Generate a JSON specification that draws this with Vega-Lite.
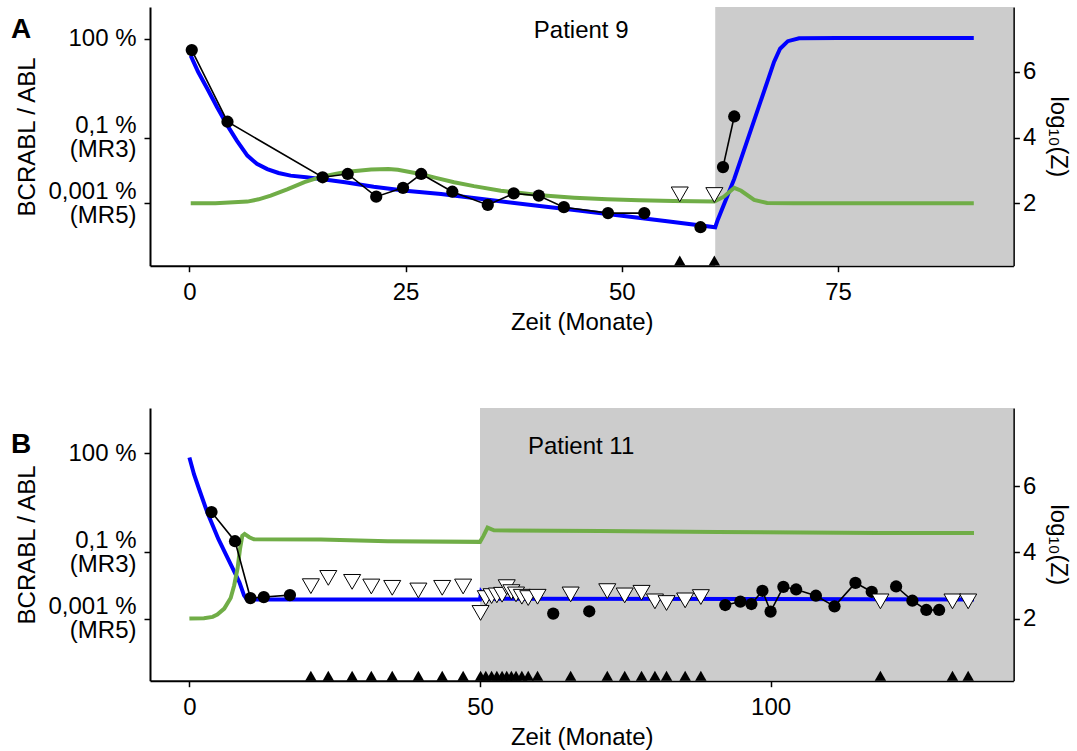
{
  "$schema": "https://vega.github.io/schema/vega-lite/v6.json",
  "padding": {"left": 10, "top": 7, "right": 5, "bottom": 5},
  "spacing": 73,
  "config": {
    "font": "Liberation Sans",
    "view": {"stroke": null},
    "axis": {"grid": false, "domainColor": "#000", "domainWidth": 2, "tickColor": "#000", "tickWidth": 1.5, "tickSize": 6, "labelFont": "Liberation Sans", "labelFontSize": 24, "labelColor": "#000", "titleFont": "Liberation Sans", "titleFontSize": 24, "titleFontWeight": "normal", "titleColor": "#000", "labelPadding": 6, "titlePadding": 8},
    "axisX": {"labelPadding": 9, "titlePadding": 6},
    "title": {"font": "Liberation Sans", "fontSize": 28, "fontWeight": "bold", "color": "#000"}
  },
  "datasets": {
    "a_rect": [{"t": 60.8, "t2": 95.28}],
    "b_rect": [{"t": 50.0, "t2": 141.78}],
    "a_blue": [
      {"t":0.15,"v":6.49},{"t":1.0,"v":6.0},{"t":2.1,"v":5.47},{"t":3.2,"v":4.92},{"t":4.4,"v":4.36},{"t":5.5,"v":3.9},{"t":6.7,"v":3.45},{"t":7.8,"v":3.2},{"t":9.0,"v":3.04},{"t":10.3,"v":2.92},{"t":11.7,"v":2.84},{"t":13.5,"v":2.79},{"t":15.2,"v":2.74},{"t":18,"v":2.64},{"t":21.3,"v":2.5},{"t":25,"v":2.38},{"t":29.1,"v":2.28},{"t":35,"v":2.09},{"t":40,"v":1.93},{"t":45,"v":1.78},{"t":50,"v":1.62},{"t":55,"v":1.46},{"t":60.8,"v":1.27},{"t":61.1,"v":1.5},{"t":63.0,"v":2.74},{"t":66.8,"v":5.68},{"t":67.6,"v":6.3},{"t":68.3,"v":6.7},{"t":69.2,"v":6.93},{"t":70.5,"v":7.02},{"t":75,"v":7.03},{"t":90.7,"v":7.03}
    ],
    "a_green": [
      {"t":0.15,"v":2.0},{"t":3,"v":2.0},{"t":6.7,"v":2.05},{"t":8,"v":2.12},{"t":9.4,"v":2.23},{"t":11.3,"v":2.42},{"t":13.3,"v":2.64},{"t":15.2,"v":2.8},{"t":17,"v":2.9},{"t":18.3,"v":2.96},{"t":21,"v":3.03},{"t":23,"v":3.04},{"t":24.1,"v":3.02},{"t":26.7,"v":2.89},{"t":28.5,"v":2.77},{"t":30.6,"v":2.64},{"t":32.9,"v":2.52},{"t":36,"v":2.38},{"t":40.6,"v":2.24},{"t":44.5,"v":2.17},{"t":48.3,"v":2.12},{"t":52,"v":2.09},{"t":56,"v":2.07},{"t":60.7,"v":2.05},{"t":61.8,"v":2.2},{"t":63.0,"v":2.47},{"t":63.8,"v":2.38},{"t":65.3,"v":2.1},{"t":66.8,"v":2.01},{"t":70,"v":2.0},{"t":90.7,"v":2.0}
    ],
    "a_meas": [
      {"t":0.27,"v":6.66,"seg":1},{"t":4.4,"v":4.48,"seg":1},{"t":15.4,"v":2.79,"seg":1},{"t":18.3,"v":2.89,"seg":1},{"t":21.6,"v":2.2,"seg":1},{"t":24.7,"v":2.47,"seg":1},{"t":26.8,"v":2.89,"seg":1},{"t":30.4,"v":2.35,"seg":1},{"t":34.5,"v":1.95,"seg":1},{"t":37.5,"v":2.3,"seg":1},{"t":40.4,"v":2.23,"seg":1},{"t":43.3,"v":1.88,"seg":1},{"t":48.4,"v":1.7,"seg":1},{"t":52.6,"v":1.7,"seg":1},{"t":59.1,"v":1.27,"seg":2},{"t":61.7,"v":3.1,"seg":3},{"t":63.0,"v":4.64,"seg":3}
    ],
    "a_undet": [{"t":56.7,"v":2.27},{"t":60.7,"v":2.25}],
    "a_text": [{"t":45.3,"v":7.24,"label":"Patient 9"}],
    "b_blue": [
      {"t":0,"v":6.87},{"t":0.8,"v":6.36},{"t":1.6,"v":5.95},{"t":3.1,"v":5.2},{"t":5,"v":4.4},{"t":7.7,"v":3.43},{"t":8.6,"v":3.1},{"t":9.4,"v":2.7},{"t":9.9,"v":2.58},{"t":20,"v":2.58},{"t":50,"v":2.58},{"t":50.2,"v":2.8},{"t":50.8,"v":2.65},{"t":51.5,"v":2.6},{"t":135,"v":2.58}
    ],
    "b_green": [
      {"t":0,"v":2.0},{"t":2.5,"v":2.01},{"t":4.0,"v":2.05},{"t":4.8,"v":2.12},{"t":6.0,"v":2.3},{"t":7.1,"v":2.62},{"t":7.7,"v":3.0},{"t":8.3,"v":3.53},{"t":8.7,"v":4.1},{"t":9.1,"v":4.5},{"t":9.5,"v":4.56},{"t":10.3,"v":4.46},{"t":11.1,"v":4.4},{"t":22.6,"v":4.39},{"t":34.1,"v":4.34},{"t":50.0,"v":4.32},{"t":50.6,"v":4.5},{"t":51.3,"v":4.75},{"t":52.4,"v":4.67},{"t":70.8,"v":4.65},{"t":90.8,"v":4.62},{"t":118.4,"v":4.59},{"t":135,"v":4.59}
    ],
    "b_meas": [
      {"t":3.8,"v":5.22,"seg":1},{"t":7.85,"v":4.34,"seg":1},{"t":10.5,"v":2.62,"seg":1},{"t":12.8,"v":2.65,"seg":1},{"t":17.3,"v":2.71,"seg":1},{"t":62.6,"v":2.15,"seg":2},{"t":68.8,"v":2.22,"seg":3},{"t":92.2,"v":2.41,"seg":4},{"t":94.8,"v":2.51,"seg":4},{"t":96.7,"v":2.44,"seg":4},{"t":98.6,"v":2.84,"seg":4},{"t":100.0,"v":2.21,"seg":4},{"t":102.2,"v":2.96,"seg":4},{"t":104.4,"v":2.88,"seg":4},{"t":107.8,"v":2.69,"seg":4},{"t":111.0,"v":2.37,"seg":4},{"t":114.6,"v":3.08,"seg":4},{"t":117.4,"v":2.81,"seg":4},{"t":121.6,"v":2.97,"seg":5},{"t":124.4,"v":2.54,"seg":5},{"t":126.8,"v":2.26,"seg":5},{"t":129.0,"v":2.26,"seg":5}
    ],
    "b_undet": [
      {"t":20.9,"v":2.98},{"t":23.9,"v":3.23},{"t":28.0,"v":3.11},{"t":31.3,"v":2.97},{"t":34.9,"v":2.93},{"t":39.4,"v":2.85},{"t":43.5,"v":2.93},{"t":47.1,"v":2.97},{"t":50.1,"v":2.17},{"t":51.0,"v":2.62},{"t":52.0,"v":2.68},{"t":52.9,"v":2.7},{"t":53.8,"v":2.72},{"t":54.6,"v":2.95},{"t":55.4,"v":2.8},{"t":56.2,"v":2.73},{"t":57.2,"v":2.66},{"t":58.3,"v":2.62},{"t":59.9,"v":2.66},{"t":65.6,"v":2.73},{"t":71.9,"v":2.83},{"t":74.9,"v":2.7},{"t":77.8,"v":2.78},{"t":80.1,"v":2.52},{"t":82.1,"v":2.47},{"t":85.3,"v":2.55},{"t":88.0,"v":2.65},{"t":118.9,"v":2.52},{"t":131.3,"v":2.52},{"t":134.0,"v":2.52}
    ],
    "b_text": [{"t":67.4,"v":7.19,"label":"Patient 11"}]
  },
  "vconcat": [
    {
      "width": 863.4,
      "height": 258.7,
      "title": {"text": "A", "anchor": "start", "frame": "bounds", "baseline": "alphabetic", "offset": 0, "dy": 59, "dx": -5},
      "encoding": {"x": {"field": "t", "type": "quantitative", "scale": {"domain": [-4.56, 95.28], "nice": false, "zero": false}, "axis": {"values": [0, 25, 50, 75], "title": "Zeit (Monate)"}}},
      "layer": [
        {"data": {"name": "a_rect"}, "mark": {"type": "rect", "color": "#CCCCCC"},
         "encoding": {"x2": {"field": "t2"}, "y": {"datum": 0.1, "type": "quantitative", "scale": {"domain": [0.1, 7.97], "nice": false, "zero": false}, "axis": null}, "y2": {"datum": 7.97}}},
        {"data": {"name": "a_blue"}, "mark": {"type": "line", "color": "#0000FF", "strokeWidth": 4},
         "encoding": {"y": {"field": "v", "type": "quantitative", "scale": {"domain": [0.1, 7.97], "nice": false, "zero": false},
           "axis": {"orient": "left", "values": [2, 4, 7], "labelExpr": "datum.value == 7 ? '100 %' : datum.value == 4 ? ['0,1 %', '(MR3)'] : ['0,001 %', '(MR5)']", "labelLineHeight": 24, "labelPadding": 8, "labelOffset": {"condition": {"test": "datum.value == 7", "value": 0}, "value": -12}, "title": "BCRABL / ABL"}}}},
        {"data": {"name": "a_green"}, "mark": {"type": "line", "color": "#70AD47", "strokeWidth": 4},
         "encoding": {"y": {"field": "v", "type": "quantitative", "scale": {"domain": [0.1, 7.97], "nice": false, "zero": false},
           "axis": {"orient": "right", "values": [2, 4, 6], "format": "d", "labelPadding": 3, "titlePadding": 10, "title": "log₁₀(Z)"}}}},
        {"data": {"name": "a_meas"}, "mark": {"type": "line", "color": "#000000", "strokeWidth": 1.6},
         "encoding": {"detail": {"field": "seg"}, "y": {"field": "v", "type": "quantitative", "scale": {"domain": [0.1, 7.97], "nice": false, "zero": false}, "axis": null}}},
        {"data": {"name": "a_meas"}, "mark": {"type": "point", "shape": "circle", "filled": true, "color": "#000000", "size": 150, "opacity": 1},
         "encoding": {"y": {"field": "v", "type": "quantitative", "scale": {"domain": [0.1, 7.97], "nice": false, "zero": false}, "axis": null}}},
        {"data": {"name": "a_undet"}, "mark": {"type": "point", "shape": "triangle-down", "filled": true, "fill": "#FFFFFF", "stroke": "#000000", "strokeWidth": 1, "size": 290, "opacity": 1},
         "encoding": {"y": {"field": "v", "type": "quantitative", "scale": {"domain": [0.1, 7.97], "nice": false, "zero": false}, "axis": null}}},
        {"data": {"name": "a_undet"}, "mark": {"type": "point", "shape": "triangle-up", "filled": true, "color": "#000000", "size": 130, "opacity": 1},
         "encoding": {"y": {"datum": 0.26, "type": "quantitative", "scale": {"domain": [0.1, 7.97], "nice": false, "zero": false}, "axis": null}}},
        {"data": {"name": "a_text"}, "mark": {"type": "text", "fontSize": 24, "font": "Liberation Sans", "color": "#000000"},
         "encoding": {"text": {"field": "label"}, "y": {"field": "v", "type": "quantitative", "scale": {"domain": [0.1, 7.97], "nice": false, "zero": false}, "axis": null}}}
      ],
      "resolve": {"axis": {"y": "independent"}}
    },
    {
      "width": 863.4,
      "height": 272.7,
      "title": {"text": "B", "anchor": "start", "frame": "bounds", "baseline": "alphabetic", "offset": 0, "dy": 73, "dx": -5},
      "encoding": {"x": {"field": "t", "type": "quantitative", "scale": {"domain": [-6.78, 141.78], "nice": false, "zero": false}, "axis": {"values": [0, 50, 100], "title": "Zeit (Monate)"}}},
      "layer": [
        {"data": {"name": "b_rect"}, "mark": {"type": "rect", "color": "#CCCCCC"},
         "encoding": {"x2": {"field": "t2"}, "y": {"datum": 0.12, "type": "quantitative", "scale": {"domain": [0.12, 8.37], "nice": false, "zero": false}, "axis": null}, "y2": {"datum": 8.37}}},
        {"data": {"name": "b_blue"}, "mark": {"type": "line", "color": "#0000FF", "strokeWidth": 4},
         "encoding": {"y": {"field": "v", "type": "quantitative", "scale": {"domain": [0.12, 8.37], "nice": false, "zero": false},
           "axis": {"orient": "left", "values": [2, 4, 7], "labelExpr": "datum.value == 7 ? '100 %' : datum.value == 4 ? ['0,1 %', '(MR3)'] : ['0,001 %', '(MR5)']", "labelLineHeight": 24, "labelPadding": 8, "labelOffset": {"condition": {"test": "datum.value == 7", "value": 0}, "value": -12}, "title": "BCRABL / ABL"}}}},
        {"data": {"name": "b_green"}, "mark": {"type": "line", "color": "#70AD47", "strokeWidth": 4},
         "encoding": {"y": {"field": "v", "type": "quantitative", "scale": {"domain": [0.12, 8.37], "nice": false, "zero": false},
           "axis": {"orient": "right", "values": [2, 4, 6], "format": "d", "labelPadding": 3, "titlePadding": 10, "title": "log₁₀(Z)"}}}},
        {"data": {"name": "b_meas"}, "mark": {"type": "line", "color": "#000000", "strokeWidth": 1.6},
         "encoding": {"detail": {"field": "seg"}, "y": {"field": "v", "type": "quantitative", "scale": {"domain": [0.12, 8.37], "nice": false, "zero": false}, "axis": null}}},
        {"data": {"name": "b_meas"}, "mark": {"type": "point", "shape": "circle", "filled": true, "color": "#000000", "size": 150, "opacity": 1},
         "encoding": {"y": {"field": "v", "type": "quantitative", "scale": {"domain": [0.12, 8.37], "nice": false, "zero": false}, "axis": null}}},
        {"data": {"name": "b_undet"}, "mark": {"type": "point", "shape": "triangle-down", "filled": true, "fill": "#FFFFFF", "stroke": "#000000", "strokeWidth": 1, "size": 290, "opacity": 1},
         "encoding": {"y": {"field": "v", "type": "quantitative", "scale": {"domain": [0.12, 8.37], "nice": false, "zero": false}, "axis": null}}},
        {"data": {"name": "b_undet"}, "mark": {"type": "point", "shape": "triangle-up", "filled": true, "color": "#000000", "size": 130, "opacity": 1},
         "encoding": {"y": {"datum": 0.27, "type": "quantitative", "scale": {"domain": [0.12, 8.37], "nice": false, "zero": false}, "axis": null}}},
        {"data": {"name": "b_text"}, "mark": {"type": "text", "fontSize": 24, "font": "Liberation Sans", "color": "#000000"},
         "encoding": {"text": {"field": "label"}, "y": {"field": "v", "type": "quantitative", "scale": {"domain": [0.12, 8.37], "nice": false, "zero": false}, "axis": null}}}
      ],
      "resolve": {"axis": {"y": "independent"}}
    }
  ]
}
